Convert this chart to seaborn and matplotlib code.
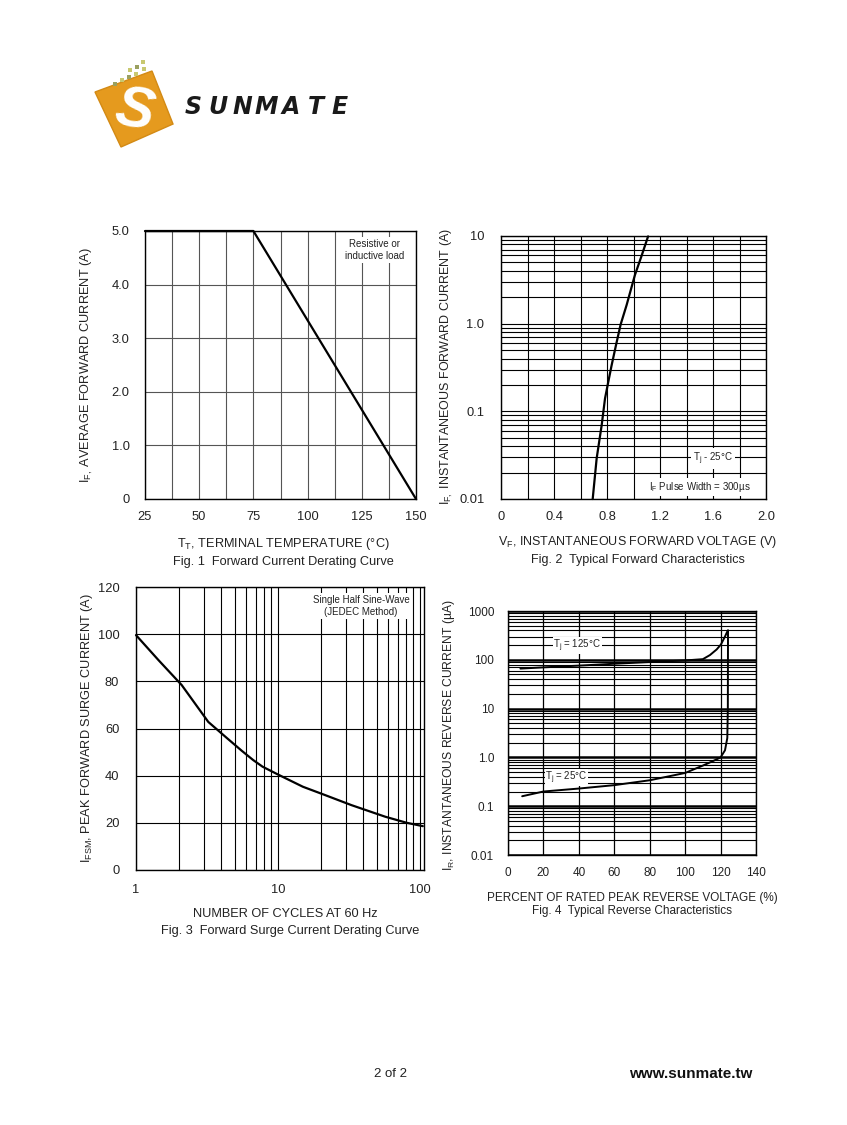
import numpy as np
import pandas as pd
import matplotlib
matplotlib.use("Agg")
import matplotlib.pyplot as plt
import seaborn as sns
from matplotlib.patches import Polygon, Rectangle
from matplotlib.ticker import FixedLocator, LogLocator, NullFormatter, FixedFormatter

# Fig. 1 - forward current derating
temp_c = [25, 75, 150]
avg_current = [5.0, 5.0, 0.0]

# Fig. 2 - typical forward characteristics
fwd_voltage = [0.692, 0.722, 0.76, 0.785, 0.81, 0.835, 0.868, 0.903, 0.948, 1.011, 1.062, 1.11]
fwd_current = [0.01, 0.0291, 0.0698, 0.14, 0.218, 0.336, 0.57, 0.98, 1.63, 3.6, 6.0, 9.9]

# Fig. 3 - forward surge current derating
cycles = [1, 1.44, 2.1, 3.23, 4.4, 5.55, 6.7, 7.8, 10, 15, 21, 33, 57, 81, 105]
surge_current = [99.6, 89, 78.4, 62.8, 55.8, 50.6, 46.6, 43.8, 40.5, 35.3, 32, 27.5, 22.6, 20, 18.6]

# Fig. 4 - typical reverse characteristics
pct_25 = [8, 20, 40, 60, 80, 100, 110, 116, 120, 122.5, 123.8, 124.1, 124.2]
ir_25 = [0.16, 0.2, 0.23, 0.27, 0.34, 0.48, 0.68, 0.85, 1.0, 1.4, 2.5, 10, 400]
pct_125 = [7, 20, 40, 60, 80, 100, 110, 114, 117.8, 120.2, 122.5, 123.8, 124.2]
ir_125 = [66, 70, 76, 83, 90, 97, 103, 125, 163, 206, 300, 380, 400]

sns.set_style("white")
plt.rcParams['font.family'] = ['Liberation Sans', 'DejaVu Sans']
plt.rcParams['mathtext.fontset'] = 'custom'
plt.rcParams['mathtext.rm'] = 'Liberation Sans'
plt.rcParams['mathtext.it'] = 'Liberation Sans:italic'
plt.rcParams['mathtext.bf'] = 'Liberation Sans:bold'

W, H = 847, 1125
fig = plt.figure(figsize=(W / 100, H / 100), dpi=100)
FS = 9.2
TICK_FS = 9.3
NOTE_FS = 7
TXT = '#222222'


def px_axes(x0, y0, x1, y1):
    return fig.add_axes([x0 / W, 1 - y1 / H, (x1 - x0) / W, (y1 - y0) / H])


def px_text(x, y, s, **kw):
    kw.setdefault('ha', 'center')
    kw.setdefault('va', 'center')
    kw.setdefault('fontsize', FS)
    kw.setdefault('color', TXT)
    fig.text(x / W, 1 - y / H, s, **kw)


def frame(ax, tick_fs=TICK_FS):
    for s in ax.spines.values():
        s.set_visible(True)
        s.set_color('black')
        s.set_linewidth(1.0)
    ax.tick_params(which='both', length=0, labelsize=tick_fs, colors=TXT)
    for ln in ax.get_lines():
        ln.set_clip_on(False)


box = dict(facecolor='white', edgecolor='none', pad=1.5)
tight_box = dict(facecolor='white', edgecolor='none', pad=0.4)

# ---------------- Fig. 1 ----------------
ax1 = px_axes(145, 231, 416, 499)
df1 = pd.DataFrame({'T': temp_c, 'I': avg_current})
sns.lineplot(data=df1, x='T', y='I', ax=ax1, color='black', lw=1.6, estimator=None, zorder=3)
ax1.set_xlim(25, 150)
ax1.set_ylim(0, 5.0)
ax1.set_xticks([25, 50, 75, 100, 125, 150])
ax1.set_xticks(np.arange(37.5, 150, 25), minor=True)
ax1.set_yticks([0, 1, 2, 3, 4, 5])
ax1.set_yticklabels(['0', '1.0', '2.0', '3.0', '4.0', '5.0'])
ax1.grid(which='both', color='#555555', lw=0.8)
frame(ax1)
ax1.tick_params(axis='y', pad=11)
ax1.tick_params(axis='x', pad=9)
ax1.set_xlabel('')
ax1.set_ylabel('')
ax1.text(131, 4.65, 'Resistive or\ninductive load', ha='center', va='center',
         fontsize=NOTE_FS, color=TXT, bbox=box, linespacing=1.3)
px_text(87, 365, r'I$_{\mathrm{F,}}$ AVERAGE FORWARD CURRENT (A)', rotation=90)
px_text(283, 544, r'T$_{\mathrm{T}}$, TERMINAL TEMPERATURE (°C)')
px_text(283, 562, 'Fig. 1  Forward Current Derating Curve')

# ---------------- Fig. 2 ----------------
ax2 = px_axes(501, 236, 766, 499)
df2 = pd.DataFrame({'V': fwd_voltage, 'I': fwd_current})
ax2.set_yscale('log')
sns.lineplot(data=df2, x='V', y='I', ax=ax2, color='black', lw=1.6, estimator=None, zorder=3)
ax2.set_xlim(0, 2.0)
ax2.set_ylim(0.01, 10)
ax2.set_xticks([0, 0.4, 0.8, 1.2, 1.6, 2.0])
ax2.set_xticklabels(['0', '0.4', '0.8', '1.2', '1.6', '2.0'])
ax2.set_xticks([0.2, 0.6, 1.0, 1.4, 1.8], minor=True)
ax2.yaxis.set_major_locator(FixedLocator([0.01, 0.1, 1, 10]))
ax2.yaxis.set_major_formatter(FixedFormatter(['0.01', '0.1', '1.0', '10']))
ax2.yaxis.set_minor_locator(LogLocator(base=10, subs=np.arange(2, 10)))
ax2.yaxis.set_minor_formatter(NullFormatter())
ax2.grid(which='both', color='black', lw=0.8)
frame(ax2)
ax2.tick_params(axis='y', pad=12)
ax2.tick_params(axis='x', pad=9)
ax2.set_xlabel('')
ax2.set_ylabel('')
ax2.text(1.6, 0.029, r'T$_{\mathrm{j}}$ - 25°C', ha='center', va='center',
         fontsize=NOTE_FS, color=TXT, bbox=box)
ax2.text(1.5, 0.0137, r'I$_{\mathrm{F}}$ Pulse Width = 300µs', ha='center', va='center',
         fontsize=NOTE_FS, color=TXT, bbox=box)
px_text(447, 367, r'I$_{\mathrm{F,}}$ INSTANTANEOUS FORWARD CURRENT (A)', rotation=90, fontsize=9.0)
px_text(638, 542, r'V$_{\mathrm{F}}$, INSTANTANEOUS FORWARD VOLTAGE (V)', fontsize=9.0)
px_text(638, 560, 'Fig. 2  Typical Forward Characteristics', fontsize=9.0)

# ---------------- Fig. 3 ----------------
ax3 = px_axes(136, 587, 424, 870)
df3 = pd.DataFrame({'N': cycles, 'I': surge_current})
ax3.set_xscale('log')
sns.lineplot(data=df3, x='N', y='I', ax=ax3, color='black', lw=1.6, estimator=None, zorder=3)
ax3.set_xlim(1, 107)
ax3.set_ylim(0, 120)
ax3.xaxis.set_major_locator(FixedLocator([1, 10, 100]))
ax3.xaxis.set_major_formatter(FixedFormatter(['1', '10', '100']))
ax3.xaxis.set_minor_locator(LogLocator(base=10, subs=np.arange(2, 10)))
ax3.xaxis.set_minor_formatter(NullFormatter())
ax3.set_yticks(np.arange(0, 121, 20))
ax3.grid(which='both', color='black', lw=0.8)
frame(ax3)
ax3.tick_params(axis='y', pad=12)
ax3.tick_params(axis='x', pad=10)
ax3.set_xlabel('')
ax3.set_ylabel('')
ax3.text(38.5, 112, 'Single Half Sine-Wave\n(JEDEC Method)', ha='center', va='center',
         fontsize=NOTE_FS, color=TXT, bbox=box, linespacing=1.2)
px_text(87, 728, r'I$_{\mathrm{FSM}}$, PEAK FORWARD SURGE CURRENT (A)', rotation=90)
px_text(285, 914, 'NUMBER OF CYCLES AT 60 Hz')
px_text(290, 931, 'Fig. 3  Forward Surge Current Derating Curve')

# ---------------- Fig. 4 ----------------
ax4 = px_axes(508, 611, 756, 855)
ax4.set_yscale('log')
df4 = pd.concat([
    pd.DataFrame({'pct': pct_125, 'IR': ir_125, 'Tj': '125'}),
    pd.DataFrame({'pct': pct_25, 'IR': ir_25, 'Tj': '25'}),
])
sns.lineplot(data=df4, x='pct', y='IR', units='Tj', ax=ax4, color='black', lw=1.4,
             estimator=None, sort=False, zorder=3)
ax4.set_xlim(0, 140)
ax4.set_ylim(0.01, 1000)
ax4.set_xticks(np.arange(0, 141, 20))
ax4.yaxis.set_major_locator(FixedLocator([0.01, 0.1, 1, 10, 100, 1000]))
ax4.yaxis.set_major_formatter(FixedFormatter(['0.01', '0.1', '1.0', '10', '100', '1000']))
ax4.yaxis.set_minor_locator(LogLocator(base=10, subs=np.arange(2, 10)))
ax4.yaxis.set_minor_formatter(NullFormatter())
ax4.grid(which='major', color='black', lw=1.8)
ax4.grid(which='minor', axis='y', color='black', lw=0.8)
ax4.grid(which='major', axis='x', color='black', lw=0.9)
frame(ax4, tick_fs=8.5)
ax4.tick_params(axis='y', pad=10)
ax4.tick_params(axis='x', pad=9)
ax4.set_xlabel('')
ax4.set_ylabel('')
ax4.text(39, 195, r'T$_{\mathrm{j}}$ = 125°C', ha='center', va='center',
         fontsize=NOTE_FS, color=TXT, bbox=tight_box)
ax4.text(33, 0.39, r'T$_{\mathrm{j}}$ = 25°C', ha='center', va='center',
         fontsize=NOTE_FS, color=TXT, bbox=tight_box)
px_text(449, 735, r'I$_{\mathrm{R}}$, INSTANTANEOUS REVERSE CURRENT (µA)', rotation=90, fontsize=8.7)
px_text(632, 898, 'PERCENT OF RATED PEAK REVERSE VOLTAGE (%)', fontsize=8.5)
px_text(632, 911, 'Fig. 4  Typical Reverse Characteristics', fontsize=8.5)

# ---------------- logo and footer ----------------
lay = fig.add_axes([0, 0, 1, 1], zorder=-1)
lay.set_xlim(0, W)
lay.set_ylim(H, 0)
lay.axis('off')
lay.add_patch(Polygon([(95, 92), (152, 71), (173, 124), (121, 147)], closed=True,
                      facecolor='#E59A1E', edgecolor='#D38A14', lw=1))
for (dx, dy, c) in [(120, 78, '#c8c870'), (127, 75, '#9aa060'), (134, 72, '#c8c870'),
                    (128, 68, '#c8c870'), (135, 65, '#9aa060'), (142, 67, '#c8c870'),
                    (141, 60, '#c8c870'), (113, 82, '#9aa060')]:
    lay.add_patch(Rectangle((dx, dy), 4, 4, facecolor=c, edgecolor='none'))
lay.text(134, 112, 'S', fontsize=42, fontweight='bold', style='italic', color='white',
         ha='center', va='center', rotation=-10)
for i, ch in enumerate('SUNMATE'):
    lay.text(193 + i * 24.5, 107, ch, fontsize=17, fontweight='bold', style='italic',
             color='#1a1a1a', ha='center', va='center', family='DejaVu Sans')
lay.text(390, 1074, '2 of 2', fontsize=9.5, color=TXT, ha='center', va='center')
lay.text(752, 1074, 'www.sunmate.tw', fontsize=11, fontweight='bold', color='#111111',
         ha='right', va='center')

fig.savefig('out.png', dpi=100, facecolor='white')
